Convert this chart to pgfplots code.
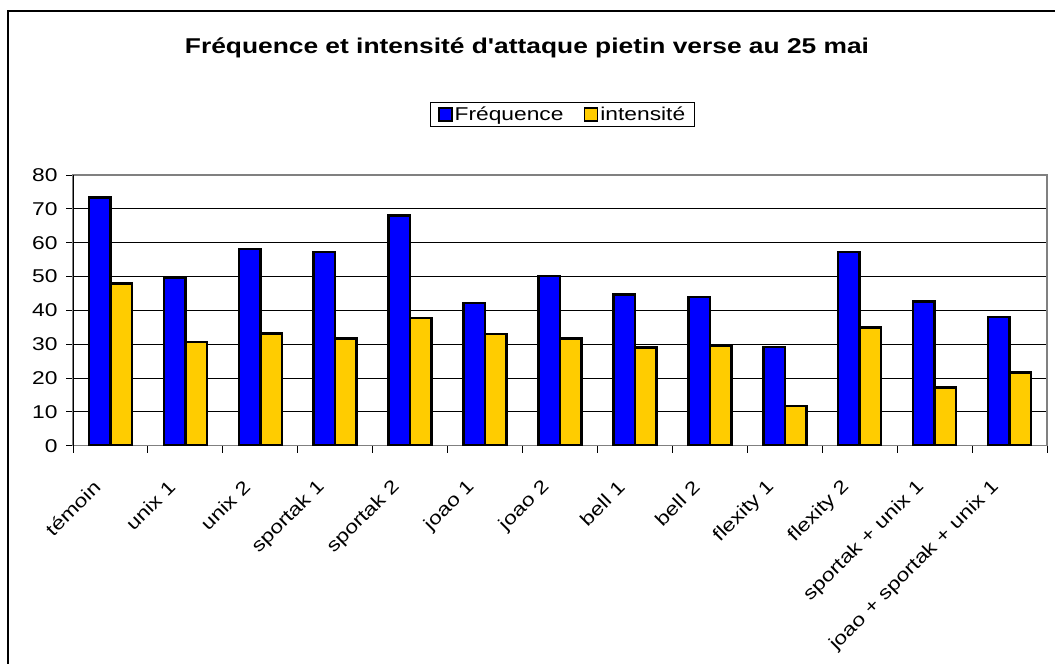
\documentclass[border=0pt]{standalone}
\usepackage{pgfplots}
\pgfplotsset{compat=1.18}
\usepackage{fontspec}
\setmainfont{Liberation Sans}[FakeStretch=1.23, Ligatures=TeXOff]
\definecolor{fblue}{HTML}{0000FF}
\definecolor{fyellow}{HTML}{FFCC00}
\begin{document}
\begin{tikzpicture}
\useasboundingbox (0bp,0bp) rectangle (1055bp,664bp);
\fill[white] (0bp,0bp) rectangle (1055bp,664bp);
\draw[black, line width=1.3bp] (8bp,-20bp) -- (8bp,653bp) -- (1070bp,653bp);
\node[font=\fontsize{21.5}{25}\selectfont\bfseries, anchor=base] at (527bp,610.7bp) {Fréquence et intensité d'attaque pietin verse au 25 mai};
\begin{axis}[
  at={(73bp,218.3bp)}, anchor=south west,
  width=974bp, height=270.7bp, scale only axis,
  ybar=0pt, bar width=21.5bp,
  xmin=-0.5, xmax=12.5, ymin=0, ymax=80,
  enlargelimits=false,
  xtick={0,...,12},
  xticklabels={témoin, unix 1, unix 2, sportak 1, sportak 2, joao 1, joao 2, bell 1, bell 2, flexity 1, flexity 2, sportak + unix 1, joao + sportak + unix 1},
  minor xtick={-0.5,0.5,...,12.5},
  major x tick style={draw=none},
  ytick={0,10,...,80},
  tick align=outside,
  xtick pos=bottom, ytick pos=left,
  major tick length=7bp, minor tick length=7bp,
  every tick/.style={black, line width=1bp},
  ymajorgrids, grid style={black, line width=0.9bp},
  axis line style={draw=black!50, line width=1.3bp},
  tick label style={font=\fontsize{18.6}{22}\selectfont},
  /pgf/number format/assume math mode=true,
  yticklabel style={xshift=-5bp},
  xticklabel style={xshift=-11bp, yshift=-29bp, rotate=45, anchor=east},
  legend columns=2,
  legend style={at={(0.5026,1.2235)}, anchor=center, draw=black, line width=1bp,
    font=\fontsize{18.6}{22}\selectfont, inner xsep=7bp, inner ysep=2.5bp,
    /tikz/every even column/.append style={column sep=18bp}},
  legend image code/.code={\draw[#1, line width=1.8bp] (0bp,-6.5bp) rectangle (13bp,6.5bp);},
]
\addplot[fill=fblue, draw=black, line width=2.5bp] coordinates {
(0,73.4) (1,49.7) (2,58.1) (3,57.3) (4,68.0) (5,42.1) (6,50.1) (7,44.7) (8,44.0) (9,29.1) (10,57.3) (11,42.6) (12,38.0)};
\addplot[fill=fyellow, draw=black, line width=2.5bp] coordinates {
(0,48.0) (1,30.7) (2,33.2) (3,31.7) (4,37.8) (5,33.0) (6,31.7) (7,29.0) (8,29.4) (9,11.7) (10,34.9) (11,17.2) (12,21.7)};
\legend{Fréquence, intensité}
\draw[black, line width=1.3bp] (axis cs:-0.5,0) -- (axis cs:-0.5,80);
\end{axis}
\end{tikzpicture}
\end{document}
